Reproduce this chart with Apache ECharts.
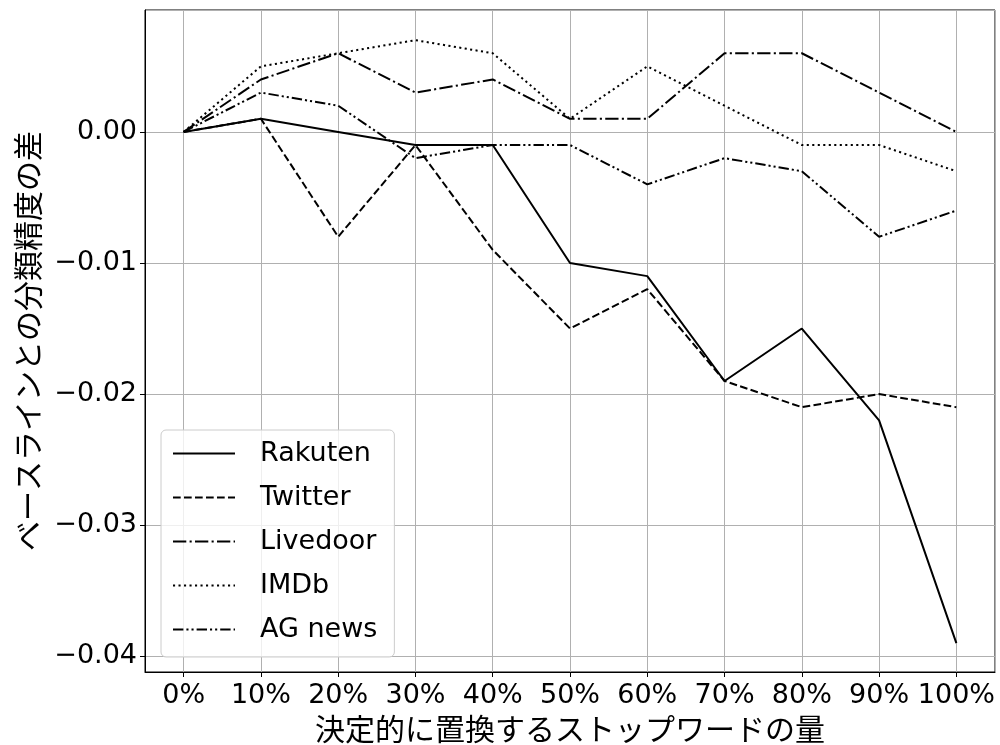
<!DOCTYPE html>
<html>
<head>
<meta charset="utf-8">
<script src="https://cdn.jsdelivr.net/npm/echarts@6/dist/echarts.min.js"></script>
<style>
  html, body { margin: 0; padding: 0; background: #fff; }
  #main { width: 1000px; height: 745px; }
</style>
</head>
<body>
<div id="main"></div>
<script>
// 置換率 (x軸)
var categories = ['0%', '10%', '20%', '30%', '40%', '50%', '60%', '70%', '80%', '90%', '100%'];
// ベースラインとの分類精度の差
var rakuten  = [0, 0.001, 0, -0.001, -0.001, -0.010, -0.011, -0.019, -0.015, -0.022, -0.039];
var twitter  = [0, 0.001, -0.008, -0.001, -0.009, -0.015, -0.012, -0.019, -0.021, -0.020, -0.021];
var livedoor = [0, 0.004, 0.006, 0.003, 0.004, 0.001, 0.001, 0.006, 0.006, 0.003, 0.000];
var imdb     = [0, 0.005, 0.006, 0.007, 0.006, 0.001, 0.005, 0.002, -0.001, -0.001, -0.003];
var agnews   = [0, 0.003, 0.002, -0.002, -0.001, -0.001, -0.004, -0.002, -0.003, -0.008, -0.006];
var yTicks   = [0, -0.01, -0.02, -0.03, -0.04];

var FONT = '"DejaVu Sans", "Noto Sans CJK JP", sans-serif';
var JP = '"Noto Sans CJK JP", sans-serif';

function pairs(arr) {
  return arr.map(function (v, i) { return [i, v]; });
}

function line(name, data, dash) {
  return {
    name: name,
    type: 'line',
    data: pairs(data),
    symbol: 'none',
    silent: true,
    color: '#000',
    lineStyle: { color: '#000', width: 2, type: dash, cap: 'butt' }
  };
}

var chart = echarts.init(document.getElementById('main'), null, { renderer: 'canvas' });
chart.setOption({
  backgroundColor: '#fff',
  animation: false,
  grid: {
    left: 145, right: 5, top: 10, bottom: 73,
    outerBoundsMode: 'none',
    containLabel: false,
    show: true, borderColor: '#000', borderWidth: 1, backgroundColor: 'transparent'
  },
  legend: {
    left: 161, top: 430,
    orient: 'vertical',
    itemWidth: 62, itemHeight: 14, itemGap: 17,
    padding: [10, 17, 14, 11],
    backgroundColor: 'rgba(255,255,255,0.8)',
    borderColor: '#cccccc', borderWidth: 1, borderRadius: 5,
    itemStyle: { opacity: 0 },
    textStyle: { fontFamily: FONT, fontSize: 27, color: '#000', padding: [0, 0, 0, 20] },
    data: ['Rakuten', 'Twitter', 'Livedoor', 'IMDb', 'AG news']
  },
  xAxis: {
    type: 'value',
    min: -0.5, max: 10.5,
    minInterval: 1, maxInterval: 1,
    name: '決定的に置換するストップワードの量',
    nameLocation: 'middle', nameGap: 40,
    nameTextStyle: { fontFamily: JP, fontSize: 30, color: '#000' },
    axisLine: { show: true, onZero: false, lineStyle: { color: '#000', width: 1 } },
    axisTick: { show: true, length: 5, lineStyle: { color: '#000', width: 1 } },
    axisLabel: {
      fontFamily: FONT, fontSize: 27, color: '#000', margin: 10,
      showMinLabel: false, showMaxLabel: false,
      formatter: function (v) {
        return Number.isInteger(v) ? (categories[v] || '') : '';
      }
    },
    splitLine: { show: true, lineStyle: { color: '#b0b0b0', width: 1 } }
  },
  yAxis: {
    type: 'value',
    min: -0.0412, max: 0.0093,
    minInterval: 0.01, maxInterval: 0.01,
    name: 'ベースラインとの分類精度の差',
    nameLocation: 'middle', nameGap: 102, nameRotate: 90,
    nameTextStyle: { fontFamily: JP, fontSize: 30, color: '#000' },
    axisLine: { show: true, onZero: false, lineStyle: { color: '#000', width: 1 } },
    axisTick: { show: true, length: 5, lineStyle: { color: '#000', width: 1 } },
    axisLabel: {
      fontFamily: FONT, fontSize: 27, color: '#000', margin: 8,
      showMinLabel: false, showMaxLabel: false,
      formatter: function (v) {
        var hit = yTicks.filter(function (t) { return Math.abs(t - v) < 1e-9; });
        if (!hit.length) return '';
        return hit[0] === 0 ? '0.00' : '\u2212' + Math.abs(hit[0]).toFixed(2);
      }
    },
    splitLine: { show: true, lineStyle: { color: '#b0b0b0', width: 1 } }
  },
  series: [
    line('Rakuten', rakuten, 'solid'),
    line('Twitter', twitter, [7.7, 3.3]),
    line('Livedoor', livedoor, [13.3, 3.3, 2.1, 3.3]),
    line('IMDb', imdb, [2.1, 3.4]),
    line('AG news', agnews, [10.4, 3, 2.1, 3, 2.1, 3])
  ]
});
</script>
</body>
</html>
